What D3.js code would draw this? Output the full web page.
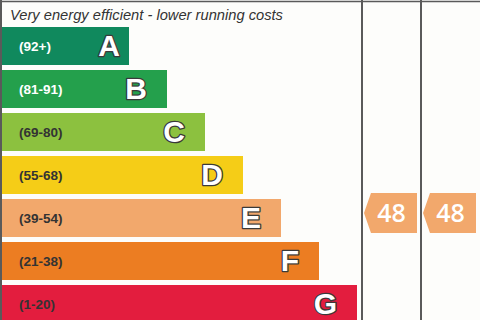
<!DOCTYPE html>
<html>
<head>
<meta charset="utf-8">
<script src="https://cdn.jsdelivr.net/npm/d3@7"></script>
<style>
  html, body { margin: 0; padding: 0; background: #fdfdfb; }
  svg { display: block; }
</style>
</head>
<body>
<div id="chart"></div>
<script>
  // ── Data ──
  var BANDS = ['A', 'B', 'C', 'D', 'E', 'F', 'G'];
  var RANGES = ['(92+)', '(81-91)', '(69-80)', '(55-68)', '(39-54)', '(21-38)', '(1-20)'];
  var COLORS = ['#10895d', '#24a04c', '#8cc13f', '#f5cd17', '#f2a86c', '#ec7d22', '#e31d3e'];
  var RANGE_TEXT_COLORS = ['#ffffff', '#ffffff', '#333333', '#333333', '#333333', '#333333', '#333333'];
  var RATINGS = [{ column: 'current', score: 48, band: 'E' }, { column: 'potential', score: 48, band: 'E' }];
  var HEADER = 'Very energy efficient - lower running costs';

  // ── Constants ──
  var W = 480, H = 320;
  var FONT = 'Liberation Sans, Arial, sans-serif';
  var LINE = '#5a5a5a';

  var svg = d3.select('#chart').append('svg')
    .attr('width', W)
    .attr('height', H);

  svg.append('rect').attr('width', W).attr('height', H).attr('fill', '#fdfdfb');

  var y = d3.scaleBand()
    .domain(BANDS)
    .range([27, 323])
    .paddingInner(5 / 43)
    .paddingOuter(0);

  // bar right edge grows one step per band
  var xRight = d3.scaleLinear()
    .domain([0, BANDS.length - 1])
    .range([129, 357]);

  var cols = d3.scaleBand()
    .domain(['current', 'potential'])
    .range([362, 480]);

  // frame lines
  svg.append('line').attr('x1', 0).attr('x2', W).attr('y1', 1.5).attr('y2', 1.5)
    .attr('stroke', LINE).attr('stroke-width', 1.5);
  svg.append('line').attr('x1', 1).attr('x2', 1).attr('y1', 0).attr('y2', H)
    .attr('stroke', LINE).attr('stroke-width', 2);
  cols.domain().forEach(function (c) {
    svg.append('line')
      .attr('x1', cols(c)).attr('x2', cols(c))
      .attr('y1', 0).attr('y2', H)
      .attr('stroke', LINE).attr('stroke-width', 2);
  });

  svg.append('text')
    .attr('x', 10)
    .attr('y', 20)
    .attr('font-family', FONT)
    .attr('font-style', 'italic')
    .attr('font-size', '14.7px')
    .attr('fill', '#333')
    .text(HEADER);

  // ── Bars ──
  var g = svg.append('g');

  g.selectAll('.bar')
    .data(BANDS)
    .join('rect')
    .attr('class', 'bar')
    .attr('x', 2)
    .attr('y', function (d) { return y(d); })
    .attr('width', function (d, i) { return xRight(i) - 2; })
    .attr('height', y.bandwidth())
    .attr('fill', function (d, i) { return COLORS[i]; });

  g.selectAll('.range')
    .data(BANDS)
    .join('text')
    .attr('class', 'range')
    .attr('x', 19)
    .attr('y', function (d) { return y(d) + y.bandwidth() / 2 + 4.5; })
    .attr('font-family', FONT)
    .attr('font-weight', 'bold')
    .attr('font-size', '13.5px')
    .attr('fill', function (d, i) { return RANGE_TEXT_COLORS[i]; })
    .text(function (d, i) { return RANGES[i]; });

  g.selectAll('.letter')
    .data(BANDS)
    .join('text')
    .attr('class', 'letter')
    .attr('x', function (d, i) { return xRight(i) - (i === 0 ? 9 : 20); })
    .attr('y', function (d) { return y(d) + y.bandwidth() / 2 + 10; })
    .attr('text-anchor', 'end')
    .attr('font-family', FONT)
    .attr('font-weight', 'bold')
    .attr('font-size', '30px')
    .attr('fill', '#ffffff')
    .attr('stroke', '#3a3a3a')
    .attr('stroke-width', 2.6)
    .attr('stroke-linejoin', 'round')
    .attr('paint-order', 'stroke')
    .text(function (d) { return d; });

  // ── Rating arrows ──
  var arrows = svg.selectAll('.rating')
    .data(RATINGS)
    .join('g')
    .attr('class', 'rating')
    .attr('transform', function (d) {
      return 'translate(' + (cols(d.column) + 2) + ',' + (y(d.band) - 6) + ')';
    });

  var aw = cols.bandwidth() - 6, ah = 40, tip = 7;
  arrows.append('path')
    .attr('d', 'M0,' + ah / 2 + 'L' + tip + ',0H' + aw + 'V' + ah + 'H' + tip + 'Z')
    .attr('fill', COLORS[4]);

  arrows.append('text')
    .attr('x', aw / 2 + 1)
    .attr('y', ah / 2 + 9)
    .attr('text-anchor', 'middle')
    .attr('font-family', 'Open Sans, sans-serif')
    .attr('font-weight', 600)
    .attr('font-size', '25px')
    .attr('fill', '#ffffff')
    .text(function (d) { return d.score; });
</script>
</body>
</html>
